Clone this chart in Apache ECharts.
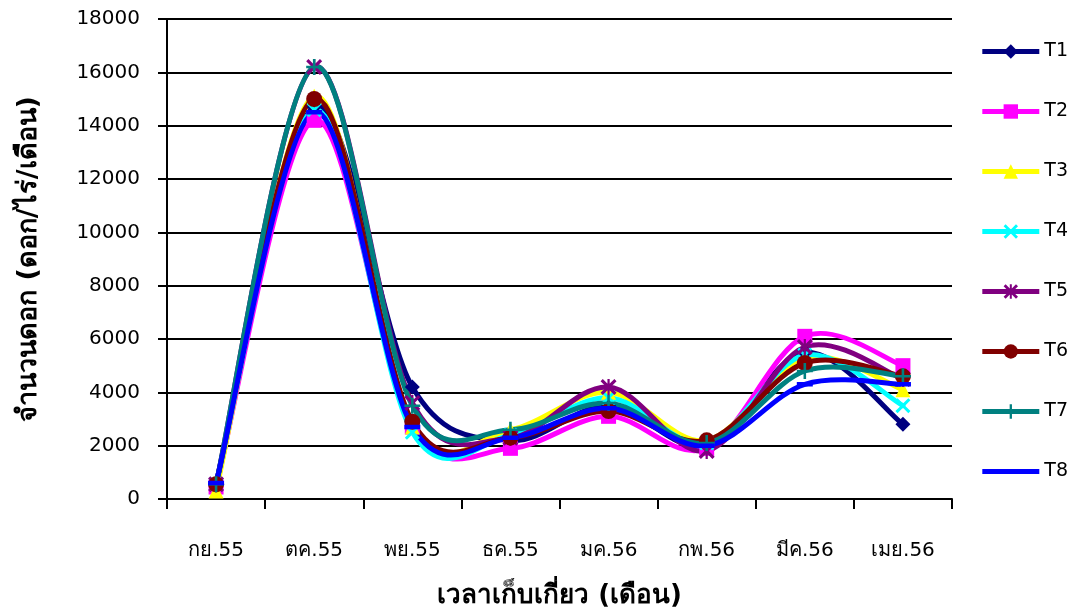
<!DOCTYPE html>
<html><head><meta charset="utf-8">
<script src="https://cdn.jsdelivr.net/npm/echarts@6/dist/echarts.min.js"></script>
<style>html,body{margin:0;padding:0;background:#fff}#c{width:1083px;height:615px}</style>
</head><body><div id="c"></div>
<script>
const categories = ["กย.55","ตค.55","พย.55","ธค.55","มค.56","กพ.56","มีค.56","เมย.56"];
const T1 = [600, 14700, 4200, 2200, 3500, 2000, 5500, 2800];
const T2 = [450, 14200, 2700, 1900, 3100, 1900, 6100, 5000];
const T3 = [300, 15100, 2700, 2600, 4000, 2200, 5300, 4100];
const T4 = [550, 14600, 2500, 2400, 3800, 2100, 5400, 3500];
const T5 = [550, 16200, 3600, 2300, 4200, 1800, 5700, 4500];
const T6 = [550, 15000, 2900, 2300, 3300, 2200, 5100, 4600];
const T7 = [550, 16200, 3500, 2600, 3600, 2100, 4800, 4600];
const T8 = [600, 14500, 2700, 2300, 3400, 2000, 4300, 4300];
const yTicks = [0,2000,4000,6000,8000,10000,12000,14000,16000,18000];

const xPath = 'path://M0,1.4 L1.4,0 L5,3.6 L8.6,0 L10,1.4 L6.4,5 L10,8.6 L8.6,10 L5,6.4 L1.4,10 L0,8.6 L3.6,5 Z';
const plusPath = 'path://M4.2,0 L5.8,0 L5.8,4.2 L10,4.2 L10,5.8 L5.8,5.8 L5.8,10 L4.2,10 L4.2,5.8 L0,5.8 L0,4.2 L4.2,4.2 Z';
const starPath = 'path://M0,1.4 L1.4,0 L5,3.6 L8.6,0 L10,1.4 L6.4,5 L10,8.6 L8.6,10 L5,6.4 L1.4,10 L0,8.6 L3.6,5 Z M4.3,0 L5.7,0 L5.7,10 L4.3,10 Z';
const dashPath = 'path://M0,0 L0.01,0 L0.01,0.01 Z M0,3.6 L10,3.6 L10,6.4 L0,6.4 Z M9.99,9.99 L10,9.99 L10,10 Z';

const defs = [
  {name:'T1', data:T1, color:'#000080', symbol:'diamond', size:15},
  {name:'T2', data:T2, color:'#FF00FF', symbol:'rect', size:15},
  {name:'T3', data:T3, color:'#FFFF00', symbol:'triangle', size:15},
  {name:'T4', data:T4, color:'#00FFFF', symbol:xPath, size:15},
  {name:'T5', data:T5, color:'#800080', symbol:starPath, size:16},
  {name:'T6', data:T6, color:'#800000', symbol:'circle', size:16},
  {name:'T7', data:T7, color:'#008080', symbol:plusPath, size:16},
  {name:'T8', data:T8, color:'#0000FF', symbol:dashPath, size:16},
];

// Excel-style smoothed curve (Catmull-Rom bezier) through points placed by the axes
function curveRenderer(arr, color) {
  return function (params, api) {
    if (params.dataIndex !== 0) return null;
    const p = arr.map((v, i) => api.coord([i, v]));
    const n = p.length;
    let d = 'M' + p[0][0] + ',' + p[0][1];
    for (let i = 0; i < n - 1; i++) {
      const a = p[i - 1] || p[i], b = p[i], c = p[i + 1], e = p[i + 2] || p[i + 1];
      const c1 = [b[0] + (c[0] - a[0]) / 6, b[1] + (c[1] - a[1]) / 6];
      const c2 = [c[0] - (e[0] - b[0]) / 6, c[1] - (e[1] - b[1]) / 6];
      d += ' C' + c1[0] + ',' + c1[1] + ' ' + c2[0] + ',' + c2[1] + ' ' + c[0] + ',' + c[1];
    }
    return {type:'path', shape:{pathData:d}, style:{fill:'none', stroke:color, lineWidth:5, lineJoin:'round', lineCap:'round'}};
  };
}

const chart = echarts.init(document.getElementById('c'), null, {renderer:'canvas'});
const FONT = '"DejaVu Sans", "Noto Sans", sans-serif';

const markerSeries = defs.map(d => ({
  name:d.name, type:'line', data:d.data, z:3,
  symbol:d.symbol, symbolSize:d.size, showSymbol:true,
  lineStyle:{color:d.color, width:5, opacity:0},
  itemStyle:{color:d.color, borderColor:d.color, borderWidth:0},
  emphasis:{disabled:true}, silent:true
}));
const curveSeries = defs.map(d => ({
  name:d.name, type:'custom', z:2, silent:true,
  data:d.data.map((v, i) => [i, v]),
  encode:{x:0, y:1},
  renderItem:curveRenderer(d.data, d.color)
}));

chart.setOption({
  animation:false,
  backgroundColor:'#fff',
  grid:{left:167, right:131, top:19, bottom:116, containLabel:false},
  legend:{
    orient:'vertical', right:10, top:37, itemGap:41,
    itemWidth:57, itemHeight:18,
    lineStyle:{width:5, opacity:1},
    textStyle:{fontSize:19, color:'#000', fontFamily:FONT},
    data:defs.map(d=>d.name)
  },
  xAxis:{
    type:'category', data:categories, boundaryGap:true,
    name:'เวลาเก็บเกี่ยว (เดือน)', nameLocation:'middle', nameGap:84,
    nameTextStyle:{fontSize:26, fontWeight:'bold', color:'#000', fontFamily:FONT},
    axisLine:{lineStyle:{color:'#000', width:2}},
    axisTick:{show:true, length:10, lineStyle:{color:'#000', width:2}, alignWithLabel:false},
    axisLabel:{fontSize:20, color:'#000', margin:42, fontFamily:FONT},
    splitLine:{show:false}
  },
  yAxis:{
    type:'value', min:0, max:18000, interval:2000,
    name:'จำนวนดอก (ดอก/ไร่/เดือน)', nameLocation:'middle', nameGap:125, nameRotate:90,
    nameTextStyle:{fontSize:27, fontWeight:'bold', color:'#000', fontFamily:FONT},
    axisLine:{show:true, lineStyle:{color:'#000', width:2}},
    axisTick:{show:true, length:9, lineStyle:{color:'#000', width:2}},
    axisLabel:{fontSize:20, color:'#000', margin:27, fontFamily:FONT,
      formatter:v=>yTicks.includes(v)?String(v):''},
    splitLine:{show:true, lineStyle:{color:'#000', width:2}}
  },
  series: markerSeries.concat(curveSeries)
});
</script></body></html>
